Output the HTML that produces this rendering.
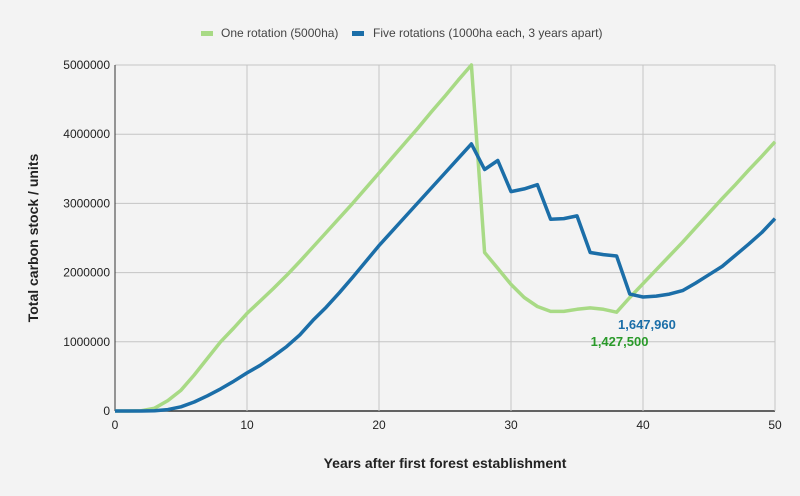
<!DOCTYPE html>
<html><head><meta charset="utf-8"><style>
body{margin:0;background:#f3f3f3;}
svg{display:block;font-family:"Liberation Sans",sans-serif;}
</style></head><body>
<svg width="800" height="496" id="chart">
<rect width="800" height="496" fill="#f3f3f3"/>
<g>
<rect x="201" y="31" width="12" height="5" fill="#a8da85"/>
<text x="221" y="37" font-size="12" fill="#444">One rotation (5000ha)</text>
<rect x="352" y="31" width="12" height="5" fill="#1b6ea8"/>
<text x="373" y="37" font-size="12" fill="#444">Five rotations (1000ha each, 3 years apart)</text>
</g>
<g id="grid"></g>
<g id="series"></g>
<g id="labels"></g>
<text x="38" y="238" font-size="14" font-weight="bold" fill="#222" text-anchor="middle" transform="rotate(-90 38 238)">Total carbon stock / units</text>
<text x="445" y="468" font-size="14" font-weight="bold" fill="#222" text-anchor="middle">Years after first forest establishment</text>
</svg>
<script>
const years = Array.from({length:51},(_, i)=>i);
const oneRotation = [0,0,5000,40000,150000,300000,520000,760000,1000000,1200000,1410000,1590000,1770000,1960000,2160000,2370000,2580000,2790000,3000000,3220000,3440000,3660000,3880000,4100000,4330000,4550000,4780000,5000000,2290000,2060000,1830000,1640000,1510000,1440000,1440000,1470000,1490000,1470000,1427500,1640000,1840000,2040000,2240000,2440000,2650000,2860000,3070000,3270000,3480000,3680000,3890000];
const fiveRotations = [0,0,0,5000,20000,60000,130000,220000,320000,430000,550000,660000,790000,930000,1100000,1310000,1500000,1710000,1930000,2160000,2390000,2600000,2810000,3020000,3230000,3440000,3650000,3860000,3490000,3620000,3170000,3210000,3270000,2770000,2780000,2820000,2290000,2260000,2240000,1690000,1647960,1660000,1690000,1740000,1850000,1970000,2090000,2250000,2410000,2580000,2780000];
const xTicks = [0,10,20,30,40,50];
const yTicks = [0,1000000,2000000,3000000,4000000,5000000];
const annotations = [{x:40,y:1647960,text:"1,647,960",color:"#1b6ea8",dx:-25,dy:32},{x:38,y:1427500,text:"1,427,500",color:"#2a9a2a",dx:-26,dy:34}];
const X0=115,X1=775,Y0=411,Y1=65;
const sx=v=>X0+(v-0)/(50-0)*(X1-X0);
const sy=v=>Y0-(v/5000000)*(Y0-Y1);
const NS="http://www.w3.org/2000/svg";
const grid=document.getElementById('grid');
function mk(tag,attrs,parent){const e=document.createElementNS(NS,tag);for(const k in attrs)e.setAttribute(k,attrs[k]);parent.appendChild(e);return e;}
yTicks.forEach(t=>{
 const l=mk('line',{x1:X0,x2:X1,y1:sy(t),y2:sy(t),stroke:t===0?'#333':'#c4c4c4','stroke-width':t===0?1.5:1},grid);
 
 
 const tx=mk('text',{x:X0-5,y:sy(t)+4,'font-size':12,fill:'#222','text-anchor':'end'},grid);
 tx.textContent=String(t);
 
 
});
xTicks.forEach(t=>{
 const l=mk('line',{x1:sx(t),x2:sx(t),y1:Y1,y2:Y0,stroke:t===0?'#333':'#c4c4c4','stroke-width':1},grid);
 
 
 const tx=mk('text',{x:sx(t),y:Y0+18,'font-size':12,fill:'#222','text-anchor':'middle'},grid);
 tx.textContent=String(t);
 
 
});
const series=document.getElementById('series');
function line(vals,color,name){
 const d=vals.map((v,i)=>(i?'L':'M')+sx(years[i]).toFixed(1)+','+sy(v).toFixed(1)).join(' ');
 const p=mk('path',{d:d,fill:'none',stroke:color,'stroke-width':3.5,'stroke-linejoin':'round'},series);
 
 
}
line(oneRotation,'#a8da85','line-one-rotation');
line(fiveRotations,'#1b6ea8','line-five-rotations');
const labels=document.getElementById('labels');
annotations.forEach(a=>{
 const t=mk('text',{x:sx(a.x)+a.dx,y:sy(a.y)+a.dy,'font-size':13,'font-weight':'bold',fill:a.color},labels);
 t.textContent=a.text;
 
 
});
</script>
</body></html>
